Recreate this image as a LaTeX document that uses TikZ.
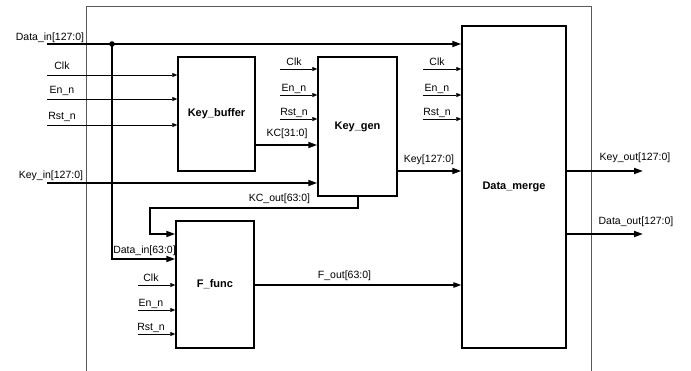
\documentclass[tikz,border=0pt]{standalone}
\usepackage{fontspec}
\setmainfont{Liberation Sans}
\usetikzlibrary{arrows.meta}
\definecolor{framegray}{RGB}{90,90,90}
\tikzset{
  blk/.style={draw, line width=1.5pt, inner sep=0pt, font=\fontsize{11}{13}\selectfont\bfseries},
  sig/.style={line width=0.8pt, -{Triangle[length=5pt,width=4pt]}},
  bus/.style={line width=1.7pt, -{Triangle[length=9pt,width=6pt]}},
  midbus/.style={line width=1.2pt, -{Triangle[length=8pt,width=5.5pt]}},
  lbl/.style={anchor=base, inner sep=0pt, font=\fontsize{10.5}{12}\selectfont},
}
\begin{document}
\begin{tikzpicture}[x=1pt,y=-1pt]
\useasboundingbox (0,0) rectangle (691,371);
% outer frame
\draw[framegray, line width=0.8pt] (86,371) -- (86,6) -- (591,6) -- (591,371);
% blocks
\node[blk, minimum width=77pt, minimum height=114pt] (kb) at (216.5,114) {Key\_buffer};
\node[blk, minimum width=79pt, minimum height=139pt] (kg) at (357.5,126.5) {Key\_gen};
\node[blk, minimum width=78pt, minimum height=127pt] (ff) at (215,284.5) {F\_func};
\node[blk, minimum width=104pt, minimum height=322pt] (dm) at (514,187) {Data\_merge};
% input coordinates
\coordinate (din) at (47,44);
\coordinate (junc) at (112,44);
\coordinate (kin) at (47,183);
\coordinate (kbclk) at (47,75);
\coordinate (kben) at (47,99);
\coordinate (kbrst) at (47,125);
\coordinate (kgclk) at (280,69);
\coordinate (kgen) at (280,95);
\coordinate (kgrst) at (280,119);
\coordinate (dmclk) at (423,69);
\coordinate (dmen) at (423,95);
\coordinate (dmrst) at (423,119);
\coordinate (ffclk) at (138,285);
\coordinate (ffen) at (138,310);
\coordinate (ffrst) at (138,334);
\coordinate (kcx) at (358,196);
\coordinate (kcl) at (150,208);
\coordinate (dinb) at (112,259);
\coordinate (kout) at (643,171);
\coordinate (dout) at (643,234);
% data in
\draw[bus] (din) -- (din -| dm.west);
\fill (junc) circle (2.8pt);
\draw[bus] (junc) |- (dinb -| ff.west);
% key in
\draw[bus] (kin) -- (kin -| kg.west);
% control signals
\foreach \c in {kbclk,kben,kbrst} \draw[sig] (\c) -- (\c -| kb.west);
\foreach \c in {kgclk,kgen,kgrst} \draw[sig] (\c) -- (\c -| kg.west);
\foreach \c in {dmclk,dmen,dmrst} \draw[sig] (\c) -- (\c -| dm.west);
\foreach \c in {ffclk,ffen,ffrst} \draw[sig] (\c) -- (\c -| ff.west);
% KC
\draw[bus] (kb.east |- 0,145) -- (kg.west |- 0,145);
% Key
\draw[bus] (kg.east |- 0,171) -- (dm.west |- 0,171);
% KC_out
\draw[bus] (kcx) |- (kcl) |- (ff.west |- 0,234);
% F_out
\draw[midbus] (ff.east |- 0,285) -- (dm.west |- 0,285);
% outputs
\draw[bus] (dm.east |- kout) -- (kout);
\draw[bus] (dm.east |- dout) -- (dout);
% labels
\node[lbl] at (50,40.5) {Data\_in[127:0]};
\node[lbl] at (51,179) {Key\_in[127:0]};
\node[lbl] at (62,70) {Clk};
\node[lbl] at (62,93.5) {En\_n};
\node[lbl] at (62,119.5) {Rst\_n};
\node[lbl] at (294,66) {Clk};
\node[lbl] at (294,92) {En\_n};
\node[lbl] at (294,116) {Rst\_n};
\node[lbl] at (437,66) {Clk};
\node[lbl] at (437,92) {En\_n};
\node[lbl] at (437,116) {Rst\_n};
\node[lbl] at (151,282) {Clk};
\node[lbl] at (151,307) {En\_n};
\node[lbl] at (151,331) {Rst\_n};
\node[lbl] at (287,137) {KC[31:0]};
\node[lbl] at (429,163) {Key[127:0]};
\node[lbl] at (279.5,202) {KC\_out[63:0]};
\node[lbl] at (144.5,254) {Data\_in[63:0]};
\node[lbl] at (344.5,279) {F\_out[63:0]};
\node[lbl] at (635,161) {Key\_out[127:0]};
\node[lbl] at (636,225) {Data\_out[127:0]};
\end{tikzpicture}
\end{document}
